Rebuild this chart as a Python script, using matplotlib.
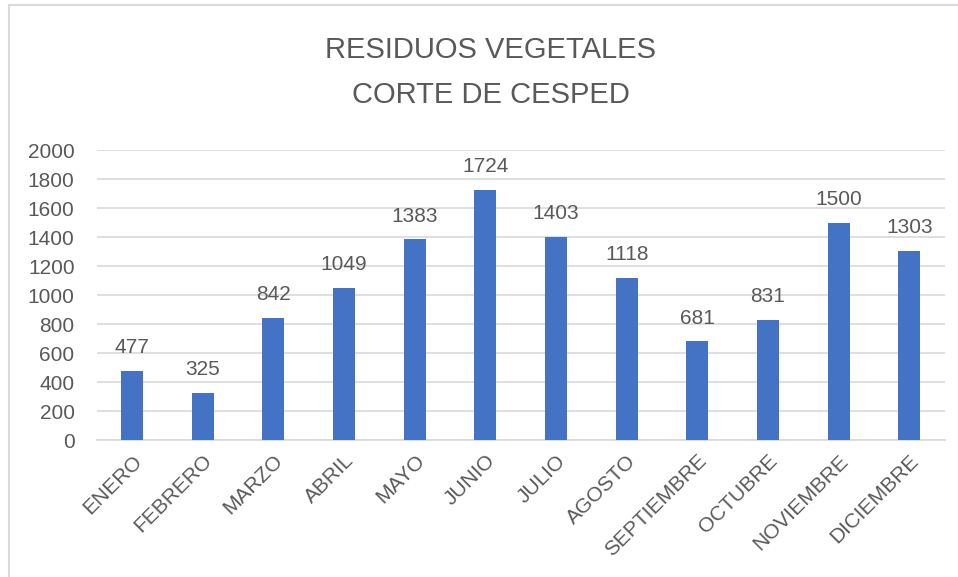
import matplotlib.pyplot as plt
from matplotlib.lines import Line2D

# data
months = ["ENERO", "FEBRERO", "MARZO", "ABRIL", "MAYO", "JUNIO", "JULIO",
          "AGOSTO", "SEPTIEMBRE", "OCTUBRE", "NOVIEMBRE", "DICIEMBRE"]
residuos = [477, 325, 842, 1049, 1383, 1724, 1403, 1118, 681, 831, 1500, 1303]
yticks = [0, 200, 400, 600, 800, 1000, 1200, 1400, 1600, 1800, 2000]

plt.rcParams['font.family'] = ['Liberation Sans', 'DejaVu Sans']
txt = "#595959"

fig = plt.figure(figsize=(9.58, 5.77), dpi=100)
ax = fig.add_axes([0.101, 0.2374, 0.885, 0.5026])

x = list(range(len(months)))
bars = ax.bar(x, residuos, width=0.31, color="#4472C4", zorder=3)

for xi, v in zip(x, residuos):
    ax.text(xi, v + 95, str(v), ha="center", va="bottom", fontsize=15, color=txt)

ax.set_xlim(-0.5, len(months) - 0.5)
ax.set_ylim(0, 2000)
ax.set_yticks(yticks)
ax.set_yticklabels([str(t) for t in yticks], fontsize=15, color=txt)
ax.set_xticks(x)
ax.set_xticklabels(months, rotation=45, ha="right", va="top",
                   rotation_mode="anchor", fontsize=15, color=txt)
ax.tick_params(axis="both", length=0)
ax.tick_params(axis="y", pad=16)
ax.tick_params(axis="x", pad=8)

ax.grid(axis="y", color="#D9D9D9", linewidth=1.2, zorder=0)
for s in ["top", "right", "left"]:
    ax.spines[s].set_visible(False)
ax.spines["bottom"].set_color("#D9D9D9")
ax.spines["bottom"].set_linewidth(1.2)

fig.text(0.512, 1 - 50 / 577, "RESIDUOS VEGETALES", ha="center", va="center",
         fontsize=21, color=txt)
fig.text(0.512, 1 - 95 / 577, "CORTE DE CESPED", ha="center", va="center",
         fontsize=21, color=txt)

# chart frame (only left and top edges visible in the crop)
fig.add_artist(Line2D([9 / 958, 9 / 958], [0, 1 - 5 / 577], transform=fig.transFigure,
                      color="#D9D9D9", linewidth=1.5))
fig.add_artist(Line2D([9 / 958, 1], [1 - 5 / 577, 1 - 5 / 577], transform=fig.transFigure,
                      color="#D9D9D9", linewidth=1.5))

fig.savefig("out.png", dpi=100)
